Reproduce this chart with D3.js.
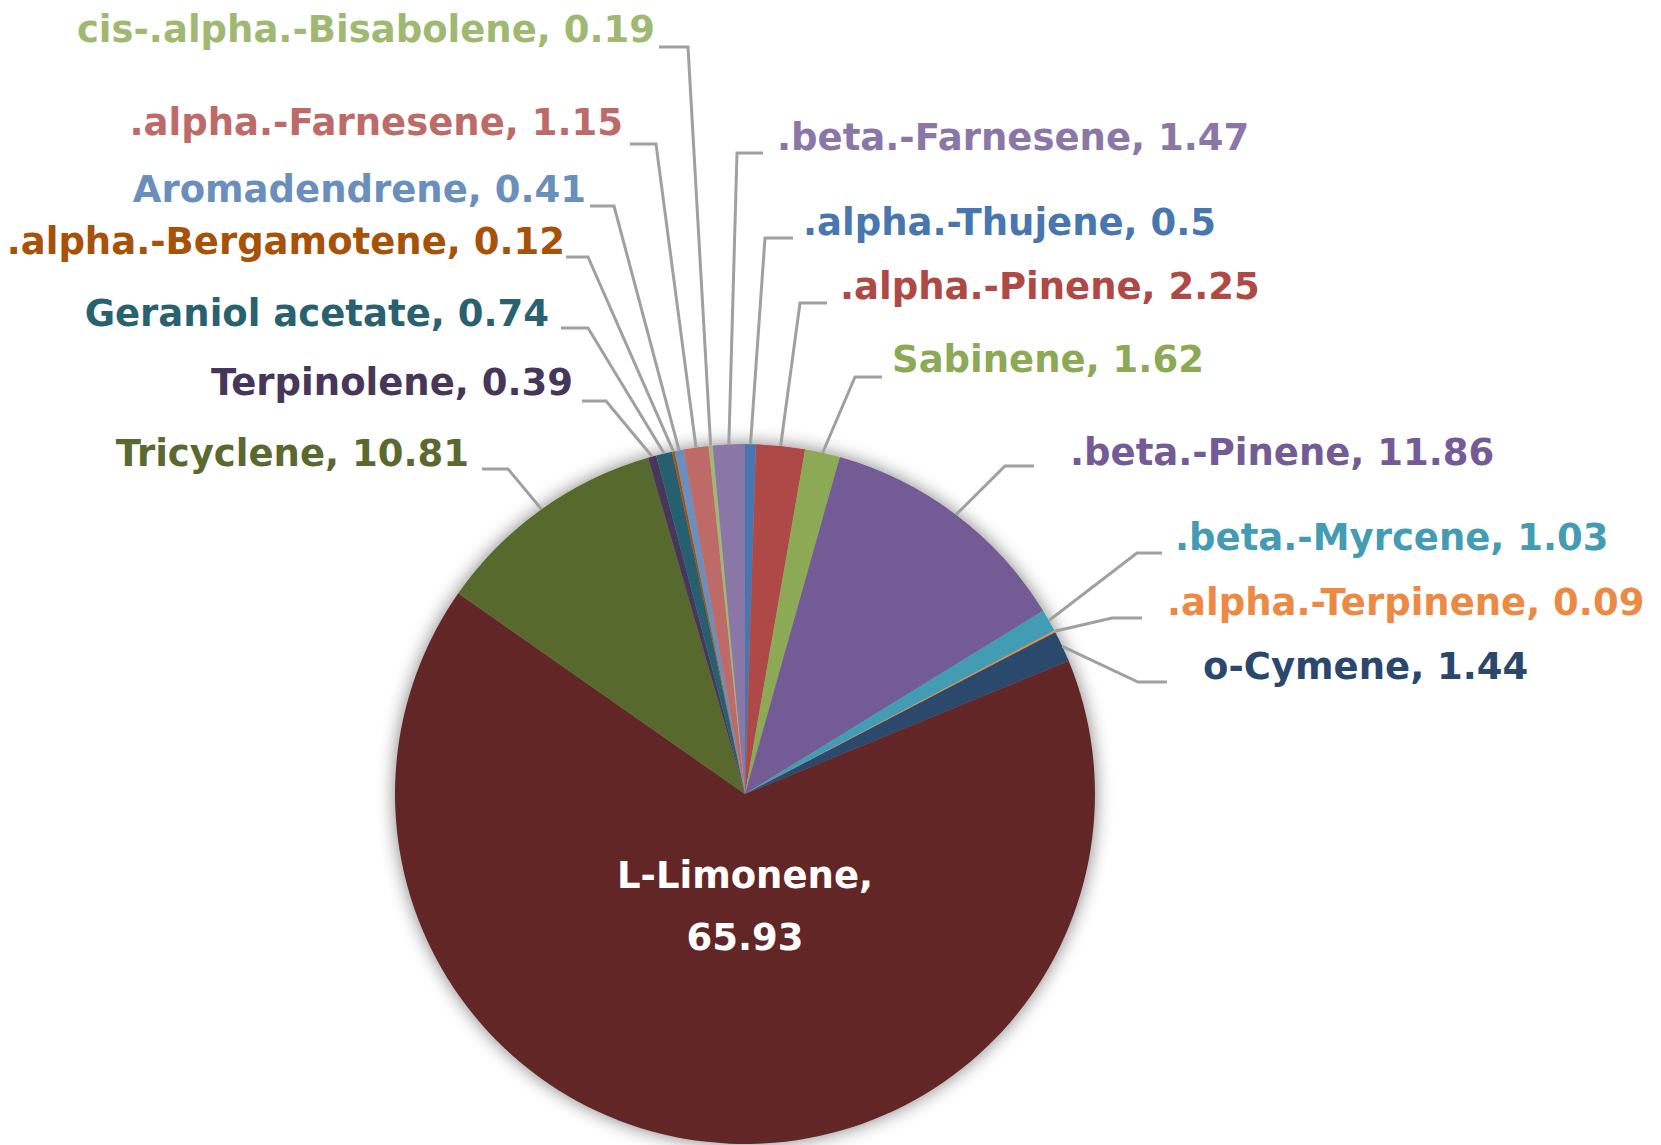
<!DOCTYPE html>
<meta charset="utf-8">
<body style="margin:0;background:#ffffff">
<div id="chart"></div>
<script src="https://d3js.org/d3.v7.min.js"></script>
<script>

// slices, clockwise from 12 o'clock
var names = [".alpha.-Thujene", ".alpha.-Pinene", "Sabinene", ".beta.-Pinene", ".beta.-Myrcene",
    ".alpha.-Terpinene", "o-Cymene", "L-Limonene", "Tricyclene", "Terpinolene", "Geraniol acetate",
    ".alpha.-Bergamotene", "Aromadendrene", ".alpha.-Farnesene", "cis-.alpha.-Bisabolene", ".beta.-Farnesene"];
var values = [0.5, 2.25, 1.62, 11.86, 1.03, 0.09, 1.44, 65.93, 10.81, 0.39, 0.74, 0.12, 0.41, 1.15, 0.19, 1.47];

var colors = ["#4876AE", "#AF4946", "#8CAA55", "#735C96", "#439CB3", "#EC8A45", "#2A486D", "#632827",
    "#59692F", "#46365A", "#28616F", "#A85108", "#6A8FBC", "#BD6B69", "#A0B972", "#8A77A7"];

// label placement: text x, baseline, leader y, leader end near text, leader elbow
var labelPos = [
    [803, 235, 238, 793, 765],
    [840, 299, 303, 827, 800],
    [892, 372, 377, 882, 855],
    [1070, 465, 466, 1034, 1005],
    [1175, 550, 553, 1162, 1137],
    [1167, 615, 618, 1142, 1112],
    [1203, 679, 682, 1167, 1138],
    null,
    [469, 466, 469, 482, 508],
    [573, 395, 401, 582, 606],
    [549, 326, 328, 561, 588],
    [565, 254, 257, 566, 588],
    [586, 202, 206, 590, 614],
    [623, 135, 144, 630, 656],
    [655, 42, 47, 659, 688],
    [777, 150, 153, 763, 737]
];

var w = 1661, h = 1145;
var cx = 745, cy = 794, r = 350;
var fontFamily = "'DejaVu Sans', sans-serif";
var fontSize = 37;

var svg = d3.select("#chart")
    .append("svg")
    .attr("width", w)
    .attr("height", h);

var defs = svg.append("defs");
var filter = defs.append("filter")
    .attr("id", "glow")
    .attr("x", "-20%").attr("y", "-20%")
    .attr("width", "140%").attr("height", "140%");
filter.append("feGaussianBlur")
    .attr("in", "SourceAlpha")
    .attr("stdDeviation", 9);
filter.append("feComponentTransfer")
    .append("feFuncA").attr("type", "linear").attr("slope", 0.5);
var merge = filter.append("feMerge");
merge.append("feMergeNode");
merge.append("feMergeNode").attr("in", "SourceGraphic");

var pie = d3.pie().sort(null).value(function(d) { return d; });
var arcs = pie(values);

var arc = d3.arc().innerRadius(0).outerRadius(r);
var edge = d3.arc().innerRadius(r).outerRadius(r);

var g = svg.append("g")
    .attr("transform", "translate(" + cx + "," + cy + ")");

g.append("g")
    .attr("filter", "url(#glow)")
    .selectAll("path")
    .data(arcs)
    .enter()
    .append("path")
    .attr("d", arc)
    .attr("fill", function(d, i) { return colors[i]; });

var outside = arcs.filter(function(d, i) { return labelPos[i]; });

// leader lines
svg.selectAll(".leader")
    .data(outside)
    .enter()
    .append("path")
    .attr("class", "leader")
    .attr("d", function(d) {
        var p = labelPos[d.index];
        var c = edge.centroid(d);
        return "M" + (cx + c[0]) + "," + (cy + c[1]) + "L" + p[4] + "," + p[2] + "L" + p[3] + "," + p[2];
    })
    .attr("fill", "none")
    .attr("stroke", "#A0A0A0")
    .attr("stroke-width", 3);

// outside labels
svg.selectAll(".label")
    .data(outside)
    .enter()
    .append("text")
    .attr("class", "label")
    .text(function(d) { return names[d.index] + ", " + values[d.index]; })
    .attr("x", function(d) { return labelPos[d.index][0]; })
    .attr("y", function(d) { return labelPos[d.index][1]; })
    .attr("text-anchor", function(d) { return labelPos[d.index][0] < cx ? "end" : "start"; })
    .attr("font-family", fontFamily)
    .attr("font-weight", "bold")
    .attr("font-size", fontSize)
    .attr("fill", function(d) { return colors[d.index]; });

// inside label for the big slice
var big = svg.append("text")
    .attr("text-anchor", "middle")
    .attr("font-family", fontFamily)
    .attr("font-weight", "bold")
    .attr("font-size", fontSize)
    .attr("fill", "#ffffff");
big.append("tspan")
    .attr("x", cx).attr("y", 888)
    .text(names[7] + ",");
big.append("tspan")
    .attr("x", cx).attr("y", 950)
    .text(values[7]);

</script>
